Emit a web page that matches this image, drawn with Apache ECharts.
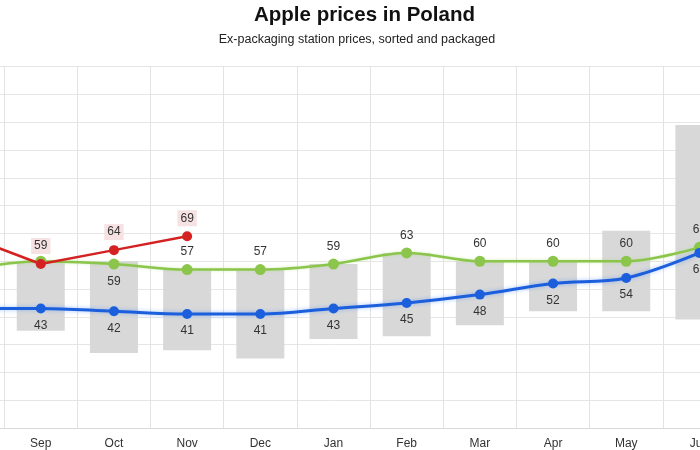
<!DOCTYPE html>
<html>
<head>
<meta charset="utf-8">
<script src="https://cdn.jsdelivr.net/npm/echarts@6/dist/echarts.min.js"></script>
<style>
html,body{margin:0;padding:0;background:#fff;overflow:hidden;width:700px;height:450px;}
#wrap{position:relative;width:700px;height:450px;overflow:hidden;}
#c{position:absolute;left:-69px;top:0;width:805px;height:450px;}
</style>
</head>
<body>
<div id="wrap"><div id="c"></div></div>
<script>
const categories = ['Aug', 'Sep', 'Oct', 'Nov', 'Dec', 'Jan', 'Feb', 'Mar', 'Apr', 'May', 'Jun'];
const rangeMin = [null, 35, 27, 28, 25, 32, 33, 37, 42, 42, 39];
const rangeMax = [null, 60, 60, 57, 57, 59, 63, 60, 60, 71, 109];
const bluePrices = [43, 43, 42, 41, 41, 43, 45, 48, 52, 54, 63];
const greenPrices = [57, 60, 59, 57, 57, 59, 63, 60, 60, 60, 65];
const redPrices = [69, 59, 64, 69, null, null, null, null, null, null, null];
const greenHiddenLabel = ['Sep'];
const greenBelowLabel = ['Oct'];

const FONT = '"Liberation Sans", Arial, sans-serif';
const OFFSET_X = 69; // container is shifted left so the first month is cropped
const chart = echarts.init(document.getElementById('c'), null, {renderer: 'canvas'});

const rangeSpan = rangeMin.map((v, i) => (v == null || rangeMax[i] == null) ? null : rangeMax[i] - v);
const greenData = greenPrices.map((v, i) => {
  const c = categories[i];
  if (greenHiddenLabel.includes(c)) return {value: v, label: {show: false}};
  if (greenBelowLabel.includes(c)) return {value: v, label: {position: 'bottom'}};
  return v;
});

chart.setOption({
  animation: false,
  backgroundColor: '#ffffff',
  graphic: [
    {type: 'text', x: 364.5 + OFFSET_X, y: 15, style: {text: 'Apple prices in Poland', font: 'bold 20.5px ' + FONT, fill: '#111', align: 'center', verticalAlign: 'middle'}},
    {type: 'text', x: 357 + OFFSET_X, y: 40, style: {text: 'Ex-packaging station prices, sorted and packaged', font: '12.5px ' + FONT, fill: '#222', align: 'center', verticalAlign: 'middle'}}
  ],
  grid: {left: 0, right: 0, top: 66.7, bottom: 20.7, containLabel: false},
  xAxis: {
    type: 'category',
    data: categories,
    boundaryGap: true,
    axisLine: {show: true, lineStyle: {color: '#d9d9d9', width: 1}},
    axisTick: {show: false},
    axisLabel: {color: '#333', fontSize: 12, fontFamily: FONT, margin: 10},
    splitLine: {show: true, lineStyle: {color: '#e3e3e3', width: 1}}
  },
  yAxis: {
    type: 'value',
    min: 0, max: 130, interval: 10,
    axisLine: {show: false},
    axisTick: {show: false},
    axisLabel: {show: false},
    splitLine: {show: true, lineStyle: {color: '#e6e6e6', width: 1}}
  },
  series: [
    {
      name: 'base', type: 'bar', stack: 'range', data: rangeMin,
      itemStyle: {color: 'rgba(0,0,0,0)'}, barWidth: 48, silent: true, z: 1
    },
    {
      name: 'Range', type: 'bar', stack: 'range', data: rangeSpan,
      itemStyle: {color: '#d8d8d8'}, barWidth: 48, z: 1
    },
    {
      name: 'Blue', type: 'line', data: bluePrices, smooth: 0.35,
      symbol: 'circle', symbolSize: 10,
      lineStyle: {color: '#1c5fdc', width: 3, shadowColor: 'rgba(60,130,255,0.45)', shadowBlur: 4},
      itemStyle: {color: '#1c5fdc'},
      label: {show: true, position: 'bottom', distance: 6, color: '#333', fontSize: 12, fontFamily: FONT},
      z: 4
    },
    {
      name: 'Green', type: 'line', data: greenData, smooth: 0.35,
      symbol: 'circle', symbolSize: 11,
      lineStyle: {color: '#8cc54b', width: 2.5, shadowColor: 'rgba(160,220,110,0.45)', shadowBlur: 3},
      itemStyle: {color: '#8cc54b'},
      label: {show: true, position: 'top', distance: 6, color: '#333', fontSize: 12, fontFamily: FONT},
      z: 3
    },
    {
      name: 'Red', type: 'line', data: redPrices, smooth: false,
      symbol: 'circle', symbolSize: 10,
      lineStyle: {color: '#d42222', width: 2.5},
      itemStyle: {color: '#d42222'},
      label: {show: true, position: 'top', distance: 5, color: '#333', fontSize: 12, fontFamily: FONT,
              backgroundColor: '#f6e2e2', padding: [2, 3]},
      z: 5
    }
  ]
});
</script>
</body>
</html>
